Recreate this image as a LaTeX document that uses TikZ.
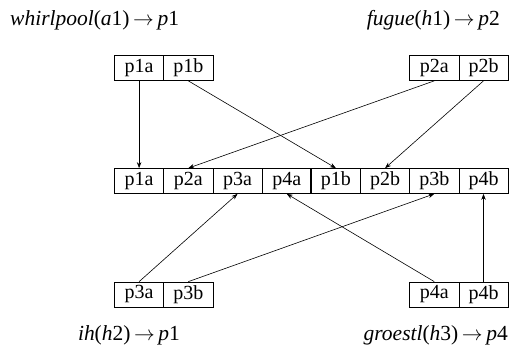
\documentclass[tikz,border=0pt]{standalone}
\usepackage{fontspec}
\setmainfont{Liberation Serif}
\usetikzlibrary{arrows.meta}
\begin{document}
\begin{tikzpicture}[x=1pt,y=-1pt,
 cell/.style={draw=black,line width=0.7pt,minimum width=49.2pt,minimum height=25pt,inner sep=0pt,font=\fontsize{20}{22}\selectfont},
 lbl/.style={font=\fontsize{21.5}{24}\selectfont,inner sep=0pt},
 arr/.style={-{Stealth[length=6pt,width=4.5pt]},line width=0.6pt}]
\useasboundingbox (0,0) rectangle (509,352);
% top boxes
\node[cell] (t1a) at (139.1,68) {p1a};
\node[cell] (t1b) at (188.3,68) {p1b};
\node[cell] (t2a) at (434.3,68) {p2a};
\node[cell] (t2b) at (483.5,68) {p2b};
% middle row
\node[cell] (m1a) at (139.1,181) {p1a};
\node[cell] (m2a) at (188.3,181) {p2a};
\node[cell] (m3a) at (237.5,181) {p3a};
\node[cell] (m4a) at (286.7,181) {p4a};
\node[cell] (m1b) at (335.9,181) {p1b};
\node[cell] (m2b) at (385.1,181) {p2b};
\node[cell] (m3b) at (434.3,181) {p3b};
\node[cell] (m4b) at (483.5,181) {p4b};
\draw[line width=1.3pt] (m1b.north west) -- (m1b.south west);
% bottom boxes
\node[cell] (b3a) at (139.1,294.5) {p3a};
\node[cell] (b3b) at (188.3,294.5) {p3b};
\node[cell] (b4a) at (434.3,294.5) {p4a};
\node[cell] (b4b) at (483.5,294.5) {p4b};
% labels
\node[lbl,anchor=west] (l1) at (10,20) {\textit{whirlpool}(\textit{a}1)\,$\rightarrow$\,\textit{p}1};
\node[lbl,anchor=east] (l2) at (500,20) {\textit{fugue}(\textit{h}1)\,$\rightarrow$\,\textit{p}2};
\node[lbl] (l3) at (129,335) {\textit{ih}(\textit{h}2)\,$\rightarrow$\,\textit{p}1};
\node[lbl,anchor=east] (l4) at (508,335) {\textit{groestl}(\textit{h}3)\,$\rightarrow$\,\textit{p}4};
% arrows
\draw[arr] (t1a.south) -- (m1a.north);
\draw[arr] (t1b.south) -- (m1b.north);
\draw[arr] (t2a.south) -- (m2a.north);
\draw[arr] (t2b.south) -- (m2b.north);
\draw[arr] (b3a.north) -- (m3a.south);
\draw[arr] (b3b.north) -- (m3b.south);
\draw[arr] (b4a.north) -- (m4a.south);
\draw[arr] (b4b.north) -- (m4b.south);
\end{tikzpicture}
\end{document}
